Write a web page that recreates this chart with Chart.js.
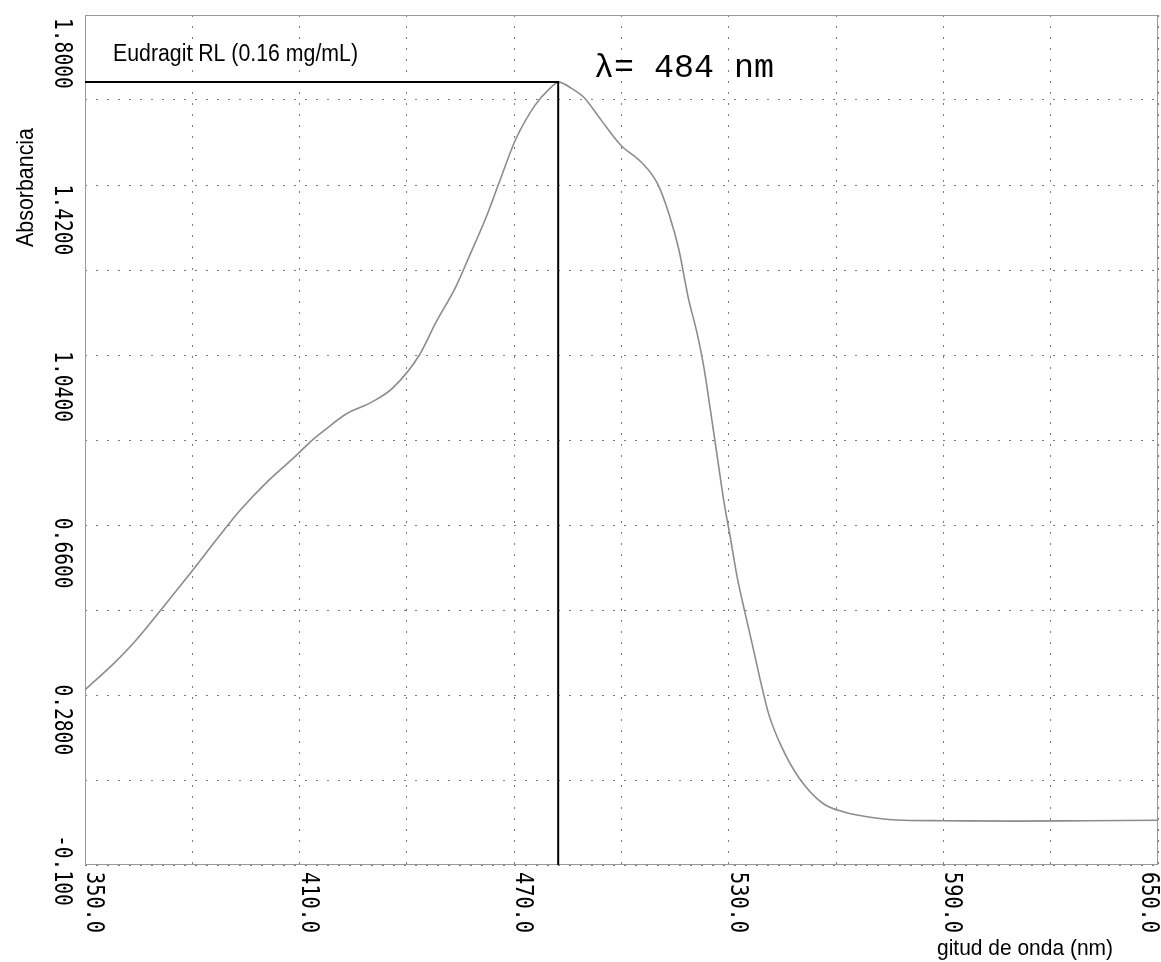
<!DOCTYPE html>
<html>
<head>
<meta charset="utf-8">
<script src="https://cdn.jsdelivr.net/npm/chart.js@4.4.0/dist/chart.umd.min.js"></script>
<style>
  html, body { margin: 0; padding: 0; background: #fff; }
  canvas { display: block; }
</style>
</head>
<body>
<canvas id="spectrum" width="1161" height="962"></canvas>
<script>
// spectrum (nm / absorbance)
const wavelength = [350, 352, 358, 364, 372, 380, 387, 393.5, 401, 409, 413, 417, 423, 430, 436,
  443.5, 448, 453.7, 457.4, 462, 466, 470.3, 475.8, 479.5, 482.5, 486, 489.7, 494.3, 499.8, 505.4,
  510, 513.4, 516, 518.75, 521.1, 523, 524.8, 526.7, 528.6, 530.5, 532.3, 534.7, 536.6, 538.9,
  541.25, 545, 549.7, 556.25, 562, 571, 579, 590, 610, 630, 650];
const absorbance = [0.292, 0.306, 0.350, 0.400, 0.478, 0.558, 0.630, 0.694, 0.757, 0.815, 0.846, 0.872, 0.908, 0.934, 0.966,
  1.040, 1.111, 1.193, 1.260, 1.345, 1.430, 1.520, 1.598, 1.632, 1.650, 1.636, 1.614, 1.565, 1.509, 1.472,
  1.424, 1.352, 1.277, 1.165, 1.090, 1.014, 0.920, 0.817, 0.714, 0.629, 0.545, 0.458, 0.392, 0.310,
  0.235, 0.160, 0.094, 0.038, 0.019, 0.005, 0.000, -0.001, -0.002, -0.001, 0.000];

// peak marker (horizontal then vertical line)
const markerX = [350, 482.3, 482.3];
const markerY = [1.65, 1.65, -0.1];

const xGrid = [350, 380, 410, 440, 470, 500, 530, 560, 590, 620, 650];
const yGrid = [-0.1, 0.09, 0.28, 0.47, 0.66, 0.85, 1.04, 1.23, 1.42, 1.61, 1.8];
const xLabelValues = [350, 410, 470, 530, 590, 650];
const xLabels = ["350.0", "410.0", "470.0", "530.0", "590.0", "650.0"];
const yLabelValues = [1.8, 1.42, 1.04, 0.66, 0.28, -0.1];
const yLabels = ["1.8000", "1.4200", "1.0400", "0.6600", "0.2800", "-0.100"];

const sampleName = "Eudragit RL (0.16 mg/mL)";
const peakLabel = "λ= 484 nm";
const yTitle = "Absorbancia";
const xTitle = "gitud de onda (nm)";

function drawText(ctx, text, x, y, angle, font, width) {
  ctx.save();
  ctx.translate(x, y);
  ctx.rotate(angle);
  ctx.font = font;
  ctx.textAlign = "left";
  ctx.textBaseline = "alphabetic";
  if (width) ctx.scale(width / ctx.measureText(text).width, 1);
  ctx.fillText(text, 0, 0);
  ctx.restore();
}

const frame = {
  id: "frame",
  beforeDatasetsDraw(chart) {
    const { ctx, chartArea: a } = chart;
    ctx.save();
    ctx.strokeStyle = "#9a9a9a";
    ctx.lineWidth = 1;
    ctx.strokeRect(a.left + 0.5, a.top + 0.5, a.right - a.left - 1, a.bottom - a.top - 1);
    ctx.restore();
  },
  afterDraw(chart) {
    const { ctx, chartArea: a } = chart;
    const xs = chart.scales.x, ys = chart.scales.y;
    const mono = "24px 'DejaVu Sans Mono'";
    ctx.save();
    ctx.fillStyle = "#000";

    yLabels.forEach((t, i) => {
      const p = ys.getPixelForValue(yLabelValues[i]);
      let start = p + 3 - (p - a.top) * 0.02;
      if (i === yLabels.length - 1) start = p - 30;
      drawText(ctx, t, 55, start, Math.PI / 2, mono, t.length * 11.8);
    });

    xLabels.forEach((t, i) => {
      let p = xs.getPixelForValue(xLabelValues[i]) + 2;
      if (p + 19 > chart.width) p = chart.width - 19;
      drawText(ctx, t, p, a.bottom + 7, Math.PI / 2, mono, t.length * 12.2);
    });

    drawText(ctx, yTitle, 33, 247, -Math.PI / 2, "24px 'Liberation Sans'", 119);
    drawText(ctx, xTitle, 937, 955, 0, "22px 'Liberation Sans'", 176);
    drawText(ctx, sampleName, 113, 61, 0, "23px 'Liberation Sans'", 245);
    drawText(ctx, peakLabel, 594, 77, 0, "33px 'Liberation Mono'", 180);
    ctx.restore();
  }
};

const gridStyle = { color: "#7a7a7a", lineWidth: 1, drawTicks: false, borderDash: [2, 9] };

new Chart(document.getElementById("spectrum"), {
  type: "line",
  data: {
    datasets: [
      {
        data: wavelength.map((x, i) => ({ x, y: absorbance[i] })),
        borderColor: "#8c8c8c",
        borderWidth: 1.6,
        pointRadius: 0,
        cubicInterpolationMode: "monotone",
        order: 2
      },
      {
        data: markerX.map((x, i) => ({ x, y: markerY[i] })),
        borderColor: "#000",
        borderWidth: 2,
        pointRadius: 0,
        tension: 0,
        order: 1
      }
    ]
  },
  options: {
    responsive: false,
    animation: false,
    layout: { padding: { left: 85, right: 3, top: 15, bottom: 97 }, autoPadding: false },
    plugins: { legend: { display: false }, tooltip: { enabled: false } },
    scales: {
      x: {
        type: "linear", min: 350, max: 650,
        afterBuildTicks: s => { s.ticks = xGrid.map(v => ({ value: v })); },
        ticks: { display: false },
        grid: gridStyle,
        border: { display: false, dash: [2, 9] }
      },
      y: {
        type: "linear", min: -0.1, max: 1.8,
        afterBuildTicks: s => { s.ticks = yGrid.map(v => ({ value: v })); },
        ticks: { display: false },
        grid: gridStyle,
        border: { display: false, dash: [2, 9] }
      }
    }
  },
  plugins: [frame]
});
</script>
</body>
</html>
